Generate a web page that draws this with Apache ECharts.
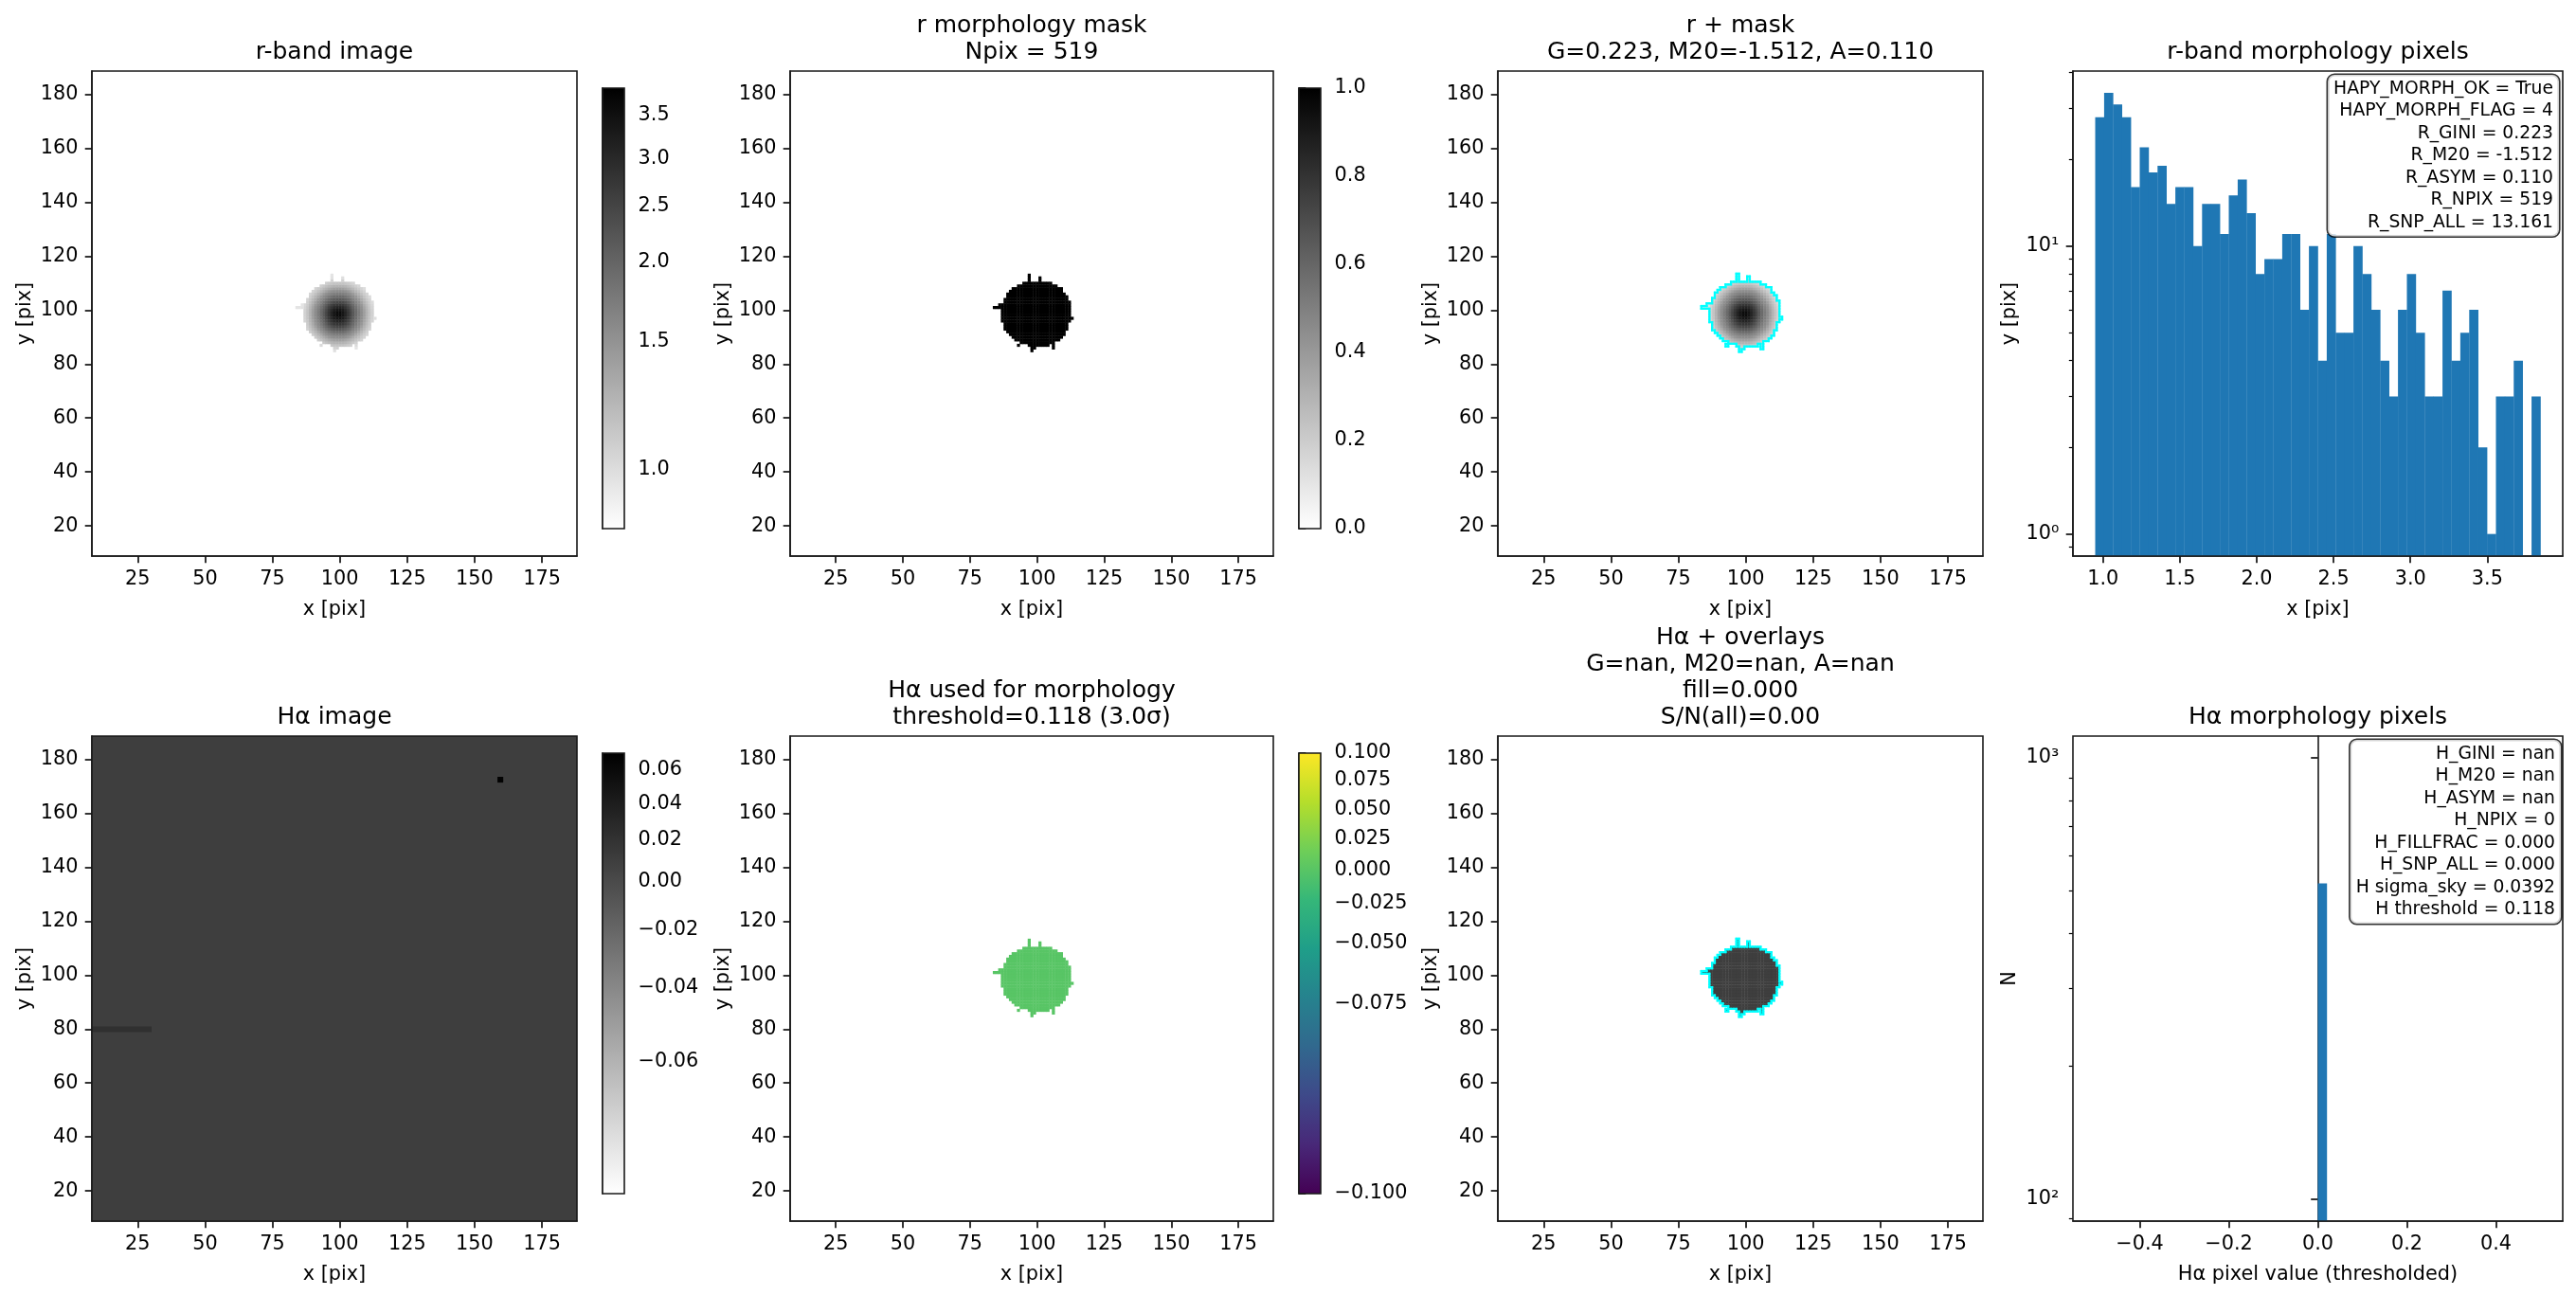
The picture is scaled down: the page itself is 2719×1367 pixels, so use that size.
<!DOCTYPE html>
<html>
<head>
<meta charset="utf-8">
<script src="https://cdn.jsdelivr.net/npm/echarts@6/dist/echarts.min.js"></script>
<style>
  html, body { margin: 0; padding: 0; background: #fff; }
  #main { width: 2719px; height: 1367px; }
</style>
</head>
<body>
<div id="main"></div>
<script>
var FONT = "DejaVu Sans";

// ---------- data ----------
// r-band morphology pixel histogram (50 bins)
var rHistRange = [0.949, 3.846];
var rHistCounts = [28, 34, 31, 28, 16, 22, 18, 19, 14, 16, 16, 10, 14, 14, 11, 15, 17, 13, 8, 9,
                   9, 11, 11, 6, 10, 4, 11, 5, 5, 10, 8, 6, 4, 3, 6, 8, 5, 3, 3, 7,
                   4, 5, 6, 2, 1, 3, 3, 4, 0, 3];
// H-alpha thresholded histogram: everything lands in one bin
var haHistBins = [[0.0, 0.02]];
var haHistCounts = [519];

// segmentation blob: centre, edge radius every 22.5 deg (from +x, counter-clockwise)
var blobCentre = [99.5, 98.5];
var blobEdgeRadius = [12.75, 13.15, 13.45, 12.85, 12.25, 12.55, 12.85, 13.05,
                      13.25, 12.85, 12.65, 12.05, 11.75, 12.45, 13.15, 12.85];
// ragged edge pixels (spikes) sticking out of the smooth outline
var blobExtraPix = [[97, 111], [97, 112], [97, 113], [101, 111], [101, 112],
                    [86, 101], [85, 101], [84, 101], [86, 102], [112, 103], [113, 97],
                    [98, 86], [99, 86], [98, 85], [93, 87], [106, 87], [106, 86]];
// r-band radial brightness profile
var rProfileRadius = [0, 2, 4, 6, 8, 10, 12, 14];
var rProfileValue = [3.75, 3.3, 2.65, 2.05, 1.65, 1.35, 1.12, 0.95];

// H-alpha image: sky level plus the few visible features
var haSkyLevel = 0.01;
var haFeatures = [[159, 172, 0.066], [160, 172, 0.066], [159, 173, 0.066], [160, 173, 0.066]];
var haStreak = [[8, 30, 79, 81, 0.022]];
var haMorphValue = 0;

// colour bars: tick values and their position along the bar (0 = bottom, 1 = top)
var rCbarTicks = [1.0, 1.5, 2.0, 2.5, 3.0, 3.5];
var rCbarFracs = [0.135, 0.425, 0.605, 0.733, 0.840, 0.939];
var rCbarLimits = [0.78, 3.8];
var maskCbarTicks = [0.0, 0.2, 0.4, 0.6, 0.8, 1.0];
var haCbarTicks = [-0.06, -0.04, -0.02, 0.0, 0.02, 0.04, 0.06];
var haCbarFracs = [0.299, 0.467, 0.599, 0.708, 0.802, 0.885, 0.963];
var haCbarLimits = [-0.085, 0.0695];
var vCbarTicks = [-0.1, -0.075, -0.05, -0.025, 0.0, 0.025, 0.05, 0.075, 0.1];
var vCbarFracs = [0, 0.432, 0.568, 0.659, 0.735, 0.806, 0.872, 0.938, 1];

// axis ticks
var imgXTicks = [25, 50, 75, 100, 125, 150, 175];
var imgYTicks = [20, 40, 60, 80, 100, 120, 140, 160, 180];
var rHistXTicks = [1.0, 1.5, 2.0, 2.5, 3.0, 3.5];
var haHistXTicks = [-0.4, -0.2, 0.0, 0.2, 0.4];
var rHistYMajor = [1, 10];
var rHistYMinor = [0.9, 2, 3, 4, 5, 6, 7, 8, 9, 20, 30, 40];
var haHistYMajor = [100, 1000];
var haHistYMinor = [90, 200, 300, 400, 500, 600, 700, 800, 900];

var imgXRange = [8, 188], imgYRange = [8.8, 188.6];
var rHistXRange = [0.804, 3.991], rHistYRange = [0.838, 40.5];
var haHistXRange = [-0.55, 0.55], haHistYRange = [89, 1120];

// ---------- helpers ----------
function interp(xs, ys, x) {
  if (x <= xs[0]) return ys[0];
  for (var i = 1; i < xs.length; i++) {
    if (x <= xs[i]) {
      var t = (x - xs[i - 1]) / (xs[i] - xs[i - 1]);
      return ys[i - 1] + t * (ys[i] - ys[i - 1]);
    }
  }
  return ys[ys.length - 1];
}
function grayR(f) {
  f = Math.max(0, Math.min(1, f));
  var g = Math.round(255 * (1 - f));
  return "rgb(" + g + "," + g + "," + g + ")";
}
var VIRIDIS = ["#440154", "#482878", "#3e4989", "#31688e", "#26828e",
               "#1f9e89", "#35b779", "#6ece58", "#b5de2b", "#fde725"];
function hexRgb(h) { return [parseInt(h.substr(1, 2), 16), parseInt(h.substr(3, 2), 16), parseInt(h.substr(5, 2), 16)]; }
function viridis(f) {
  f = Math.max(0, Math.min(1, f));
  var p = f * (VIRIDIS.length - 1), i = Math.min(Math.floor(p), VIRIDIS.length - 2), t = p - i;
  var a = hexRgb(VIRIDIS[i]), b = hexRgb(VIRIDIS[i + 1]);
  return "rgb(" + [0, 1, 2].map(function (k) { return Math.round(a[k] + t * (b[k] - a[k])); }).join(",") + ")";
}
var rStretchV = [rCbarLimits[0]].concat(rCbarTicks, [rCbarLimits[1]]);
var rStretchF = [0].concat(rCbarFracs, [1]);
var haStretchV = [haCbarLimits[0]].concat(haCbarTicks, [haCbarLimits[1]]);
var haStretchF = [0].concat(haCbarFracs, [1]);
function rCmap(v) { return grayR(interp(rStretchV, rStretchF, v)); }
function haCmap(v) { return grayR(interp(haStretchV, haStretchF, v)); }
function maskCmap(v) { return grayR(v); }
function vCmap(v) { return viridis(interp(vCbarTicks, vCbarFracs, v)); }
function minus(s) { return s.replace("-", "\u2212"); }
var SUP = { "0": "\u2070", "1": "\u00b9", "2": "\u00b2", "3": "\u00b3" };

// ---------- segmentation mask ----------
function edgeRadius(th) {
  var n = blobEdgeRadius.length, step = 2 * Math.PI / n;
  var p = th / step, i = Math.floor(p) % n, t = p - Math.floor(p);
  return blobEdgeRadius[i] * (1 - t) + blobEdgeRadius[(i + 1) % n] * t;
}
var maskPix = [], maskSet = {};
function addPix(x, y) {
  var k = x + "," + y;
  if (!maskSet[k]) { maskSet[k] = true; maskPix.push([x, y]); }
}
for (var x = 80; x <= 120; x++) {
  for (var y = 80; y <= 120; y++) {
    var dx = x - blobCentre[0], dy = y - blobCentre[1];
    var th = Math.atan2(dy, dx); if (th < 0) th += 2 * Math.PI;
    if (Math.sqrt(dx * dx + dy * dy) <= edgeRadius(th)) addPix(x, y);
  }
}
blobExtraPix.forEach(function (p) { addPix(p[0], p[1]); });

function rValue(p) {
  var dx = p[0] - blobCentre[0], dy = p[1] - blobCentre[1];
  return interp(rProfileRadius, rProfileValue, Math.sqrt(dx * dx + dy * dy));
}
function cellsOf(valueFn) {
  return maskPix.map(function (p) { return [p[0] - 0.5, p[0] + 0.5, p[1] - 0.5, p[1] + 0.5, valueFn(p)]; });
}
var contourSegs = [];
maskPix.forEach(function (p) {
  var x = p[0], y = p[1];
  if (!maskSet[(x + 1) + "," + y]) contourSegs.push([x + 0.5, y - 0.5, x + 0.5, y + 0.5]);
  if (!maskSet[(x - 1) + "," + y]) contourSegs.push([x - 0.5, y - 0.5, x - 0.5, y + 0.5]);
  if (!maskSet[x + "," + (y + 1)]) contourSegs.push([x - 0.5, y + 0.5, x + 0.5, y + 0.5]);
  if (!maskSet[x + "," + (y - 1)]) contourSegs.push([x - 0.5, y - 0.5, x + 0.5, y - 0.5]);
});

// ---------- layout ----------
var ROW_TOP = [75, 777], PLOT_H = 512;
var COL_LEFT = [97, 834, 1581, 2188], COL_W = [512, 510, 512, 517];
var CBAR_LEFT = [636, 1371], CBAR_W = 23, CBAR_TOP = [93, 795], CBAR_H = 465;

var TICK_LS = { color: "#000", width: 1.6 };
var LINE = { show: true, lineStyle: { color: "#1a1a1a", width: 1.6 } };
var LABEL = { color: "#000", fontSize: 20.8, fontFamily: FONT, margin: 14.6 };
var NAME = { color: "#000", fontSize: 20.8, fontFamily: FONT };

var grids = [], xAxes = [], yAxes = [], series = [], graphics = [];

function addGrid(left, top, w, h) {
  grids.push({ left: left, top: top, width: w, height: h, show: true, z: 5,
    borderColor: "#1a1a1a", borderWidth: 1.6, backgroundColor: "transparent" });
  return grids.length - 1;
}
function valueAxis(gi, type, range, ticks, fmt, name, gap) {
  return {
    type: type, gridIndex: gi, min: range[0], max: range[1],
    name: name, nameLocation: "middle", nameGap: gap, nameTextStyle: NAME,
    axisLine: LINE, splitLine: { show: false },
    axisTick: { show: true, customValues: ticks, length: 7.3, lineStyle: TICK_LS },
    axisLabel: Object.assign({ customValues: ticks, formatter: fmt }, LABEL)
  };
}
function addImagePanel(col, row) {
  var gi = addGrid(COL_LEFT[col], ROW_TOP[row], COL_W[col], PLOT_H);
  xAxes.push(valueAxis(gi, "value", imgXRange, imgXTicks, function (v) { return String(v); }, "x [pix]", 46));
  yAxes.push(valueAxis(gi, "value", imgYRange, imgYTicks, function (v) { return String(v); }, "y [pix]", 60));
  return { x: xAxes.length - 1, y: yAxes.length - 1 };
}
function cellSeries(ax, cells, cmap) {
  series.push({
    type: "custom", xAxisIndex: ax.x, yAxisIndex: ax.y, clip: true, silent: true, z: 2,
    data: cells,
    renderItem: function (params, api) {
      var a = api.coord([api.value(0), api.value(3)]);
      var b = api.coord([api.value(1), api.value(2)]);
      return { type: "rect", shape: { x: a[0], y: a[1], width: b[0] - a[0] + 0.4, height: b[1] - a[1] + 0.4 },
               style: { fill: cmap(api.value(4)) } };
    }
  });
}
function contourSeries(ax) {
  series.push({
    type: "custom", xAxisIndex: ax.x, yAxisIndex: ax.y, clip: true, silent: true, z: 3,
    data: contourSegs,
    renderItem: function (params, api) {
      var a = api.coord([api.value(0), api.value(1)]);
      var b = api.coord([api.value(2), api.value(3)]);
      return { type: "line", shape: { x1: a[0], y1: a[1], x2: b[0], y2: b[1] },
               style: { stroke: "#00ffff", lineWidth: 2.2, lineCap: "square" } };
    }
  });
}
function addColorbar(col, row, ticks, fracs, labels, stops) {
  var gi = addGrid(CBAR_LEFT[col], CBAR_TOP[row], CBAR_W, CBAR_H);
  xAxes.push({ type: "value", gridIndex: gi, min: 0, max: 1, show: false });
  yAxes.push({
    type: "value", gridIndex: gi, min: 0, max: 1, position: "right",
    axisLine: LINE, splitLine: { show: false },
    axisTick: { show: true, customValues: fracs, length: 7.3, lineStyle: TICK_LS },
    axisLabel: Object.assign({ customValues: fracs, formatter: function (v) {
      var best = 0;
      for (var i = 1; i < fracs.length; i++) if (Math.abs(fracs[i] - v) < Math.abs(fracs[best] - v)) best = i;
      return labels[best];
    } }, LABEL)
  });
  var xi = xAxes.length - 1, yi = yAxes.length - 1;
  series.push({
    type: "custom", xAxisIndex: xi, yAxisIndex: yi, silent: true, data: [[0, 0]],
    renderItem: function (params, api) {
      var a = api.coord([0, 1]), b = api.coord([1, 0]);
      return { type: "rect", shape: { x: a[0], y: a[1], width: b[0] - a[0], height: b[1] - a[1] },
               style: { fill: new echarts.graphic.LinearGradient(0, 1, 0, 0, stops) } };
    }
  });
}
function addHistPanel(col, row, xRange, xTicks, xFmt, yRange, yMajor, yMinor, xName, yName, bins, counts) {
  var gi = addGrid(COL_LEFT[col], ROW_TOP[row], COL_W[col], PLOT_H);
  xAxes.push(valueAxis(gi, "value", xRange, xTicks, xFmt, xName, 46));
  yAxes.push(Object.assign(valueAxis(gi, "log", yRange, yMajor, function (v) {
    var e = String(Math.round(Math.log(v) / Math.LN10));
    return "10" + e.split("").map(function (c) { return SUP[c]; }).join("");
  }, yName, 56), { logBase: 10 }));
  var xi = xAxes.length - 1, yi = yAxes.length - 1;
  yAxes.push({
    type: "log", logBase: 10, gridIndex: gi, min: yRange[0], max: yRange[1], position: "left",
    axisLine: { show: false }, axisLabel: { show: false }, splitLine: { show: false },
    axisTick: { show: true, customValues: yMinor, length: 4.2, lineStyle: { color: "#000", width: 1.2 } }
  });
  series.push({
    type: "custom", xAxisIndex: xi, yAxisIndex: yi, clip: true, silent: true,
    data: bins.map(function (b, i) { return [b[0], b[1], counts[i]]; }).filter(function (d) { return d[2] > 0; }),
    renderItem: function (params, api) {
      var a = api.coord([api.value(0), api.value(2)]);
      var b = api.coord([api.value(1), yRange[0]]);
      return { type: "rect", shape: { x: a[0], y: a[1], width: b[0] - a[0] + 0.3, height: b[1] - a[1] },
               style: { fill: "#1f77b4" } };
    }
  });
}
function addTitle(col, row, text) {
  graphics.push({ type: "text", x: COL_LEFT[col] + COL_W[col] / 2, y: ROW_TOP[row] - 6, z: 50,
    style: { text: text, align: "center", verticalAlign: "bottom", fontSize: 25, fontFamily: FONT,
             fill: "#000", lineHeight: 28 } });
}
function addStatsBox(right, top, text) {
  graphics.push({ type: "text", x: right, y: top, z: 60,
    style: { text: text, align: "right", verticalAlign: "top", fontSize: 18.75, fontFamily: FONT,
             lineHeight: 23.5, fill: "#000", backgroundColor: "rgba(255,255,255,0.8)",
             borderColor: "rgba(0,0,0,0.8)", borderWidth: 1.6, borderRadius: 7, padding: [3, 6, 3, 6] } });
}

var GRAY_STOPS = [{ offset: 0, color: "#ffffff" }, { offset: 1, color: "#000000" }];
var VIRIDIS_STOPS = VIRIDIS.map(function (c, i) { return { offset: i / (VIRIDIS.length - 1), color: c }; });

// ---------- row 1 ----------
var ax;
ax = addImagePanel(0, 0);
cellSeries(ax, cellsOf(rValue), rCmap);
addColorbar(0, 0, rCbarTicks, rCbarFracs, rCbarTicks.map(function (v) { return v.toFixed(1); }), GRAY_STOPS);
addTitle(0, 0, "r-band image");

ax = addImagePanel(1, 0);
cellSeries(ax, cellsOf(function () { return 1; }), maskCmap);
addColorbar(1, 0, maskCbarTicks, maskCbarTicks, maskCbarTicks.map(function (v) { return v.toFixed(1); }), GRAY_STOPS);
addTitle(1, 0, "r morphology mask\nNpix = 519");

ax = addImagePanel(2, 0);
cellSeries(ax, cellsOf(rValue), rCmap);
contourSeries(ax);
addTitle(2, 0, "r + mask\nG=0.223, M20=-1.512, A=0.110");

var rBinW = (rHistRange[1] - rHistRange[0]) / rHistCounts.length;
var rBins = rHistCounts.map(function (c, i) { return [rHistRange[0] + i * rBinW, rHistRange[0] + (i + 1) * rBinW]; });
addHistPanel(3, 0, rHistXRange, rHistXTicks, function (v) { return v.toFixed(1); },
  rHistYRange, rHistYMajor, rHistYMinor, "x [pix]", "y [pix]", rBins, rHistCounts);
addTitle(3, 0, "r-band morphology pixels");
addStatsBox(2701, 79, "HAPY_MORPH_OK = True\nHAPY_MORPH_FLAG = 4\nR_GINI = 0.223\nR_M20 = -1.512\nR_ASYM = 0.110\nR_NPIX = 519\nR_SNP_ALL = 13.161");

// ---------- row 2 ----------
ax = addImagePanel(0, 1);
var haCells = [[imgXRange[0], imgXRange[1], imgYRange[0], imgYRange[1], haSkyLevel]]
  .concat(haStreak)
  .concat(haFeatures.map(function (p) { return [p[0] - 0.5, p[0] + 0.5, p[1] - 0.5, p[1] + 0.5, p[2]]; }));
cellSeries(ax, haCells, haCmap);
addColorbar(0, 1, haCbarTicks, haCbarFracs, haCbarTicks.map(function (v) { return minus(v.toFixed(2)); }), GRAY_STOPS);
addTitle(0, 1, "H\u03b1 image");

ax = addImagePanel(1, 1);
cellSeries(ax, cellsOf(function () { return haMorphValue; }), vCmap);
addColorbar(1, 1, vCbarTicks, vCbarFracs, vCbarTicks.map(function (v) { return minus(v.toFixed(3)); }), VIRIDIS_STOPS);
addTitle(1, 1, "H\u03b1 used for morphology\nthreshold=0.118 (3.0\u03c3)");

ax = addImagePanel(2, 1);
cellSeries(ax, cellsOf(function () { return haSkyLevel; }), haCmap);
contourSeries(ax);
addTitle(2, 1, "H\u03b1 + overlays\nG=nan, M20=nan, A=nan\nfill=0.000\nS/N(all)=0.00");

addHistPanel(3, 1, haHistXRange, haHistXTicks, function (v) { return minus(v.toFixed(1)); },
  haHistYRange, haHistYMajor, haHistYMinor, "H\u03b1 pixel value (thresholded)", "N", haHistBins, haHistCounts);
addTitle(3, 1, "H\u03b1 morphology pixels");
addStatsBox(2703, 781, "H_GINI = nan\nH_M20 = nan\nH_ASYM = nan\nH_NPIX = 0\nH_FILLFRAC = 0.000\nH_SNP_ALL = 0.000\nH sigma_sky = 0.0392\nH threshold = 0.118");

var chart = echarts.init(document.getElementById("main"));
chart.setOption({
  animation: false,
  backgroundColor: "#ffffff",
  textStyle: { fontFamily: FONT },
  grid: grids,
  xAxis: xAxes,
  yAxis: yAxes,
  series: series,
  graphic: graphics
});
</script>
</body>
</html>
